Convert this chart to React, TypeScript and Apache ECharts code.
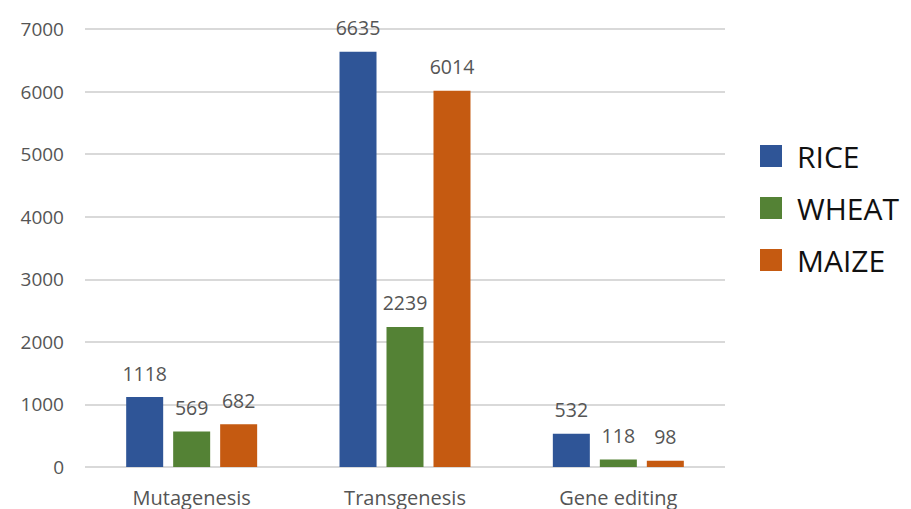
import React, { useEffect, useRef } from "react";
import * as echarts from "echarts";

const categories = ["Mutagenesis", "Transgenesis", "Gene editing"];
const seriesNames = ["RICE", "WHEAT", "MAIZE"];
const rice = [1118, 6635, 532];
const wheat = [569, 2239, 118];
const maize = [682, 6014, 98];
const colors = ["#2F5597", "#548235", "#C55A11"];

const FONT = "'Open Sans', 'Noto Sans', sans-serif";

export default function App() {
  const ref = useRef<HTMLDivElement>(null);

  useEffect(() => {
    if (!ref.current) return;
    const chart = echarts.init(ref.current, undefined, { renderer: "svg" });
    const values = [rice, wheat, maize];
    chart.setOption({
      animation: false,
      backgroundColor: "#ffffff",
      textStyle: { fontFamily: FONT },
      grid: { left: 85, right: 186, top: 29, bottom: 42, containLabel: false },
      legend: {
        orient: "vertical",
        left: 755,
        top: 136,
        itemWidth: 22,
        itemHeight: 22,
        itemGap: 22,
        icon: "rect",
        textStyle: {
          fontSize: 30,
          lineHeight: 22,
          color: "#111111",
          fontFamily: FONT,
          padding: [0, 0, 0, 10],
        },
        data: seriesNames,
      },
      xAxis: {
        type: "category",
        data: categories,
        axisLine: { show: false },
        axisTick: { show: false },
        axisLabel: { fontSize: 20, color: "#555555", margin: 20, fontFamily: FONT },
      },
      yAxis: {
        type: "value",
        min: 0,
        max: 7000,
        interval: 1000,
        axisLine: { show: false },
        axisTick: { show: false },
        axisLabel: {
          fontSize: 19,
          color: "#555555",
          margin: 21,
          fontFamily: FONT,
          formatter: (v: number) => String(v),
        },
        splitLine: { lineStyle: { color: "#d9d9d9", width: 2 } },
      },
      series: seriesNames.map((name, i) => ({
        name,
        type: "bar",
        data: values[i],
        barWidth: 37,
        barGap: "27%",
        itemStyle: { color: colors[i] },
        label: {
          show: true,
          position: "top",
          distance: 14,
          fontSize: 19.5,
          color: "#555555",
          fontFamily: FONT,
        },
      })),
    });
    return () => chart.dispose();
  }, []);

  return <div ref={ref} style={{ width: 911, height: 509, position: "absolute", left: 0, top: 0 }} />;
}
